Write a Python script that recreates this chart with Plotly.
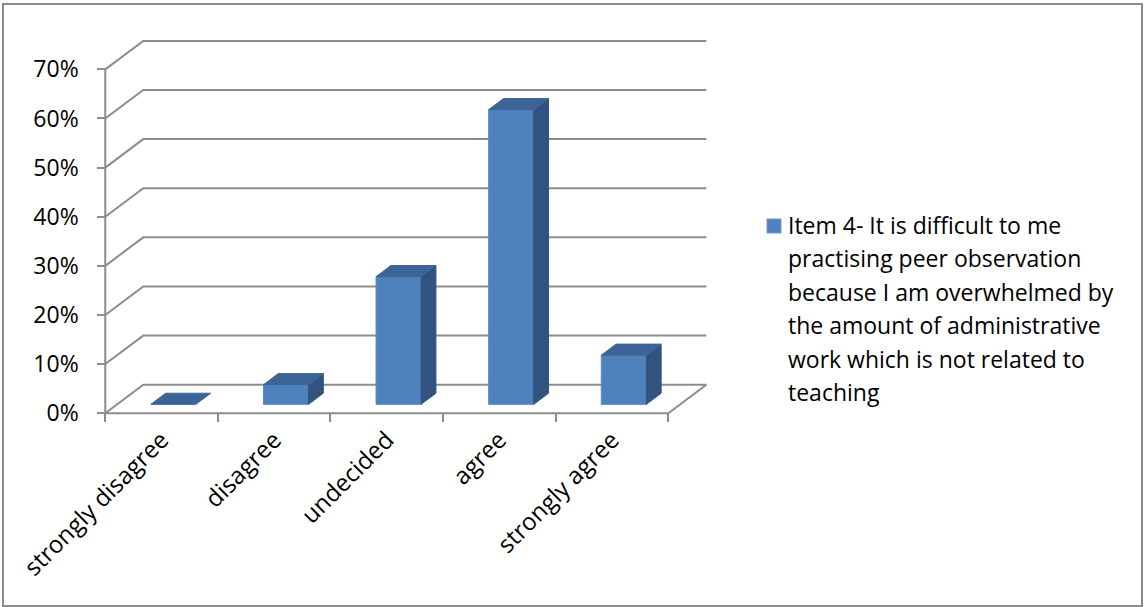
import plotly.graph_objects as go

categories = ["strongly disagree", "disagree", "undecided", "agree", "strongly agree"]
values = [0, 4, 26, 60, 10]
y_ticks = [0, 10, 20, 30, 40, 50, 60, 70]
y_tick_labels = ["0%", "10%", "20%", "30%", "40%", "50%", "60%", "70%"]
legend_lines = [
    "Item 4- It is difficult to me",
    "practising peer observation",
    "because I am overwhelmed by",
    "the amount of administrative",
    "work which is not related to",
    "teaching",
]

W, H = 1144, 607
ML, MR, MT, MB = 94, 425, 35, 184
XR = [-0.1, 5.45]
YR = [-2, 77]
PW, PH = W - ML - MR, H - MT - MB

def px(xp):
    return (xp - ML) / PW

def py(yp):
    return (H - MB - yp) / PH

DX, DY = 0.3375, 5.8      # depth offset in data units
F0, F1 = 0.31, 0.70       # bar depth (front/back) as fraction of depth
BW = 0.40                 # bar width in category units
GRID = "#8c8c8c"
FRONT, SIDE, TOP = "#4F81BD", "#32537F", "#3C6497"
FONT = "Open Sans"
FS = 23

fig = go.Figure()
n = len(categories)

# walls / gridlines
for k in y_ticks:
    fig.add_trace(go.Scatter(x=[0, DX, n + DX], y=[k, k + DY, k + DY], mode="lines",
                             line=dict(color=GRID, width=2), hoverinfo="skip", showlegend=False))
# floor front + right edges
fig.add_trace(go.Scatter(x=[0, n, n + DX], y=[0, 0, DY], mode="lines",
                         line=dict(color=GRID, width=2), hoverinfo="skip", showlegend=False))
# front vertical axis line
fig.add_trace(go.Scatter(x=[0, 0], y=[0, y_ticks[-1]], mode="lines",
                         line=dict(color=GRID, width=2), hoverinfo="skip", showlegend=False))

# bars
for i, v in enumerate(values):
    x0 = i + 0.5 - BW / 2 + F0 * DX
    x1 = x0 + BW
    b = F0 * DY
    ddx, ddy = (F1 - F0) * DX, (F1 - F0) * DY
    if v > 0:
        fig.add_trace(go.Scatter(x=[x0, x1, x1, x0, x0], y=[b, b, b + v, b + v, b],
                                 fill="toself", fillcolor=FRONT, mode="lines",
                                 line=dict(color="#5a8ac6", width=1), hoverinfo="skip", showlegend=False))
        fig.add_trace(go.Scatter(x=[x1, x1 + ddx, x1 + ddx, x1, x1],
                                 y=[b, b + ddy, b + ddy + v, b + v, b],
                                 fill="toself", fillcolor=SIDE, mode="lines",
                                 line=dict(color=SIDE, width=1), hoverinfo="skip", showlegend=False))
    fig.add_trace(go.Scatter(x=[x0, x1, x1 + ddx, x0 + ddx, x0],
                             y=[b + v, b + v, b + v + ddy, b + v + ddy, b + v],
                             fill="toself", fillcolor=TOP, mode="lines",
                             line=dict(color=TOP, width=1), hoverinfo="skip", showlegend=False))

# legend marker + text
fig.add_shape(type="rect", xref="paper", yref="paper",
              x0=px(767), x1=px(781), y0=py(233), y1=py(219),
              fillcolor=FRONT, line=dict(color="#6f9ad0", width=1))
for j, t in enumerate(legend_lines):
    fig.add_annotation(text=t, xref="paper", yref="paper", x=px(786), y=py(225 + j * 33.4),
                       xanchor="left", yanchor="middle", showarrow=False,
                       font=dict(family=FONT, size=FS, color="#000000"))

# outer border
fig.add_shape(type="rect", xref="paper", yref="paper",
              x0=px(3), x1=px(1142), y0=py(606), y1=py(4),
              line=dict(color="#8c8c8c", width=2), fillcolor="rgba(0,0,0,0)", layer="below")

fig.update_layout(
    width=W, height=H,
    margin=dict(l=ML, r=MR, t=MT, b=MB, pad=0),
    paper_bgcolor="white", plot_bgcolor="white",
    showlegend=False,
    font=dict(family=FONT, size=FS, color="#000000"),
    xaxis=dict(range=XR, anchor="free", position=(0 - YR[0]) / (YR[1] - YR[0]),
               tickmode="array", tickvals=[i + 0.5 for i in range(n)], ticktext=categories,
               ticks="", tickangle=-45, showgrid=False, zeroline=False, showline=False,
               ticklabelstandoff=7,
               tickfont=dict(family=FONT, size=24),
               minor=dict(tickmode="array", tickvals=list(range(n + 1)), ticks="outside",
                          ticklen=8, tickwidth=2, tickcolor=GRID, showgrid=False)),
    yaxis=dict(range=YR, anchor="free", position=(0 - XR[0]) / (XR[1] - XR[0]),
               tickmode="array", tickvals=y_ticks, ticktext=y_tick_labels,
               ticks="outside", ticklen=8, tickwidth=2, tickcolor=GRID,
               showgrid=False, zeroline=False, showline=False,
               ticklabelstandoff=14,
               tickfont=dict(family=FONT, size=FS)),
)

fig.write_html("out.html")
